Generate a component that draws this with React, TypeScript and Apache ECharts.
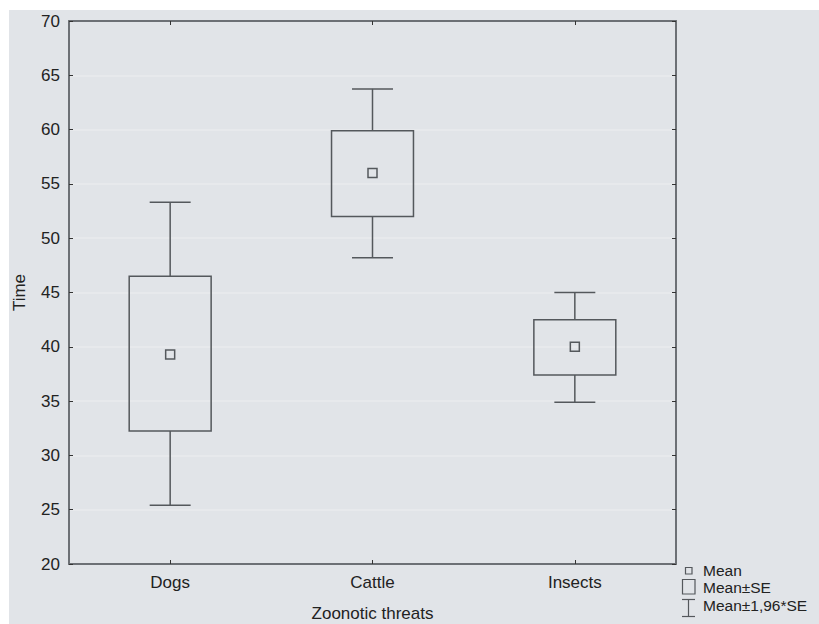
import React, { useEffect, useRef } from "react";
import * as echarts from "echarts";

const categories = ["Dogs", "Cattle", "Insects"];
const means = [39.3, 56.0, 40.0];
const seLow = [32.25, 52.0, 37.4];
const seHigh = [46.5, 59.9, 42.5];
const ciLow = [25.4, 48.2, 34.9];
const ciHigh = [53.3, 63.75, 45.0];
const yTicks = { min: 20, max: 70, interval: 5 };
const legendLabels = ["Mean", "Mean±SE", "Mean±1,96*SE"];

const FONT = "'Liberation Sans', Arial, Helvetica, sans-serif";
const BG = "#e1e4e8";
const AXIS = "#6c7075";
const STROKE = "#54585c";
const FS = 17;
const LFS = 15.5;

export default function App() {
  const ref = useRef<HTMLDivElement>(null);
  useEffect(() => {
    if (!ref.current) return;
    const chart = echarts.init(ref.current, undefined, { renderer: "svg" });
    const data = categories.map((_, i) => [i, ciLow[i], seLow[i], means[i], seHigh[i], ciHigh[i]]);
    const axisLine = { show: true, lineStyle: { color: AXIS, width: 2 } };
    const legendText = (t: string, y: number) => ({
      type: "text",
      x: 694,
      y,
      style: { text: t, fontSize: LFS, fontFamily: FONT, fill: "#222", verticalAlign: "middle", lineHeight: 15 },
    });
    chart.setOption({
      animation: false,
      backgroundColor: BG,
      textStyle: { fontFamily: FONT },
      grid: { left: 60, top: 11, right: 143, bottom: 60, outerBoundsMode: "none", containLabel: false },
      xAxis: [
        {
          type: "category",
          data: categories,
          position: "bottom",
          axisLine,
          axisTick: { show: true, inside: true, alignWithLabel: true, length: 4, lineStyle: { color: "#333", width: 1 } },
          axisLabel: { color: "#222", fontSize: FS, fontFamily: FONT, margin: 10 },
          name: "Zoonotic threats",
          nameLocation: "middle",
          nameGap: 41,
          nameTextStyle: { color: "#222", fontSize: FS, fontFamily: FONT },
          splitLine: { show: false },
        },
        {
          type: "category",
          data: categories,
          position: "top",
          axisLine,
          axisTick: { show: true, inside: true, alignWithLabel: true, length: 4, lineStyle: { color: "#333", width: 1 } },
          axisLabel: { show: false },
          splitLine: { show: false },
        },
      ],
      yAxis: [
        {
          type: "value",
          min: yTicks.min,
          max: yTicks.max,
          interval: yTicks.interval,
          position: "left",
          axisLine,
          axisTick: { show: true, inside: true, length: 4, lineStyle: { color: "#333", width: 1 } },
          axisLabel: { color: "#222", fontSize: FS, fontFamily: FONT, margin: 9 },
          splitLine: { show: true, lineStyle: { color: "#e9ebee", width: 1.5 } },
          name: "Time",
          nameLocation: "middle",
          nameGap: 41,
          nameTextStyle: { color: "#222", fontSize: FS, fontFamily: FONT },
        },
        {
          type: "value",
          min: yTicks.min,
          max: yTicks.max,
          interval: yTicks.interval,
          position: "right",
          axisLine,
          axisTick: { show: true, inside: true, length: 4, lineStyle: { color: "#333", width: 1 } },
          axisLabel: { show: false },
          splitLine: { show: false },
        },
      ],
      series: [
        {
          type: "custom",
          xAxisIndex: 0,
          yAxisIndex: 0,
          data,
          encode: { x: 0, y: [1, 2, 3, 4, 5] },
          renderItem: (params: any, api: any) => {
            const idx = api.value(0);
            const p = (v: number) => api.coord([idx, v]);
            const bandW = api.size([1, 0])[0];
            const bw = bandW * 0.405;
            const cw = bw * 0.5;
            const [cx, yWl] = p(api.value(1));
            const yBl = p(api.value(2))[1];
            const yM = p(api.value(3))[1];
            const yBh = p(api.value(4))[1];
            const yWh = p(api.value(5))[1];
            const ls = { stroke: STROKE, lineWidth: 1.5, fill: null };
            return {
              type: "group",
              children: [
                { type: "line", shape: { x1: cx, y1: yWh, x2: cx, y2: yBh }, style: ls },
                { type: "line", shape: { x1: cx, y1: yBl, x2: cx, y2: yWl }, style: ls },
                { type: "line", shape: { x1: cx - cw / 2, y1: yWh, x2: cx + cw / 2, y2: yWh }, style: ls },
                { type: "line", shape: { x1: cx - cw / 2, y1: yWl, x2: cx + cw / 2, y2: yWl }, style: ls },
                { type: "rect", shape: { x: cx - bw / 2, y: yBh, width: bw, height: yBl - yBh }, style: { stroke: STROKE, lineWidth: 1.5, fill: "rgba(0,0,0,0)" } },
                { type: "rect", shape: { x: cx - 4.5, y: yM - 4.5, width: 9, height: 9 }, style: { stroke: STROKE, lineWidth: 1.5, fill: "rgba(0,0,0,0)" } },
              ],
            };
          },
        },
      ],
      graphic: [
        { type: "rect", shape: { x: 676.5, y: 557.5, width: 6.5, height: 6.5 }, style: { stroke: STROKE, lineWidth: 1.2, fill: "rgba(0,0,0,0)" } },
        legendText(legendLabels[0], 560),
        { type: "rect", shape: { x: 673.5, y: 569.5, width: 12.5, height: 14.5 }, style: { stroke: STROKE, lineWidth: 1.2, fill: "rgba(0,0,0,0)" } },
        legendText(legendLabels[1], 577.5),
        { type: "line", shape: { x1: 673, y1: 589.5, x2: 686, y2: 589.5 }, style: { stroke: STROKE, lineWidth: 1.2 } },
        { type: "line", shape: { x1: 679.5, y1: 589.5, x2: 679.5, y2: 606.5 }, style: { stroke: STROKE, lineWidth: 1.2 } },
        { type: "line", shape: { x1: 673, y1: 606.5, x2: 686, y2: 606.5 }, style: { stroke: STROKE, lineWidth: 1.2 } },
        legendText(legendLabels[2], 595.5),
      ],
    });
    return () => chart.dispose();
  }, []);
  return (
    <div style={{ position: "fixed", left: 0, top: 0, width: 819, height: 624, background: "#fff" }}>
      <div ref={ref} style={{ position: "absolute", left: 9, top: 10, width: 810, height: 614 }} />
    </div>
  );
}
